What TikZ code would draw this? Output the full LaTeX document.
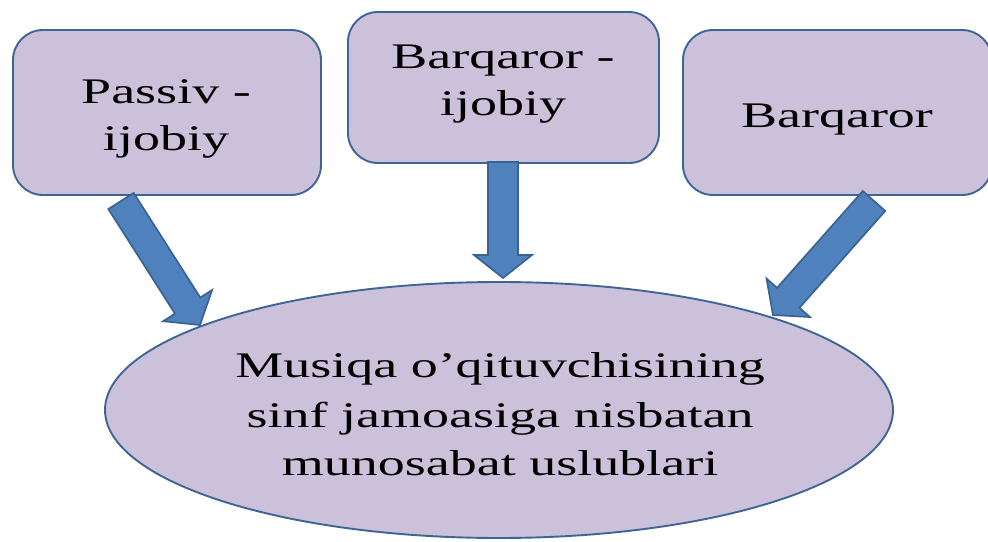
\documentclass[tikz,border=0pt]{standalone}
\usepackage{fontspec}
\setmainfont{Liberation Serif}
\newfontfamily\tnr[FakeStretch=1.5]{Liberation Serif}
\usetikzlibrary{calc,shapes.geometric}
\definecolor{boxfill}{HTML}{CCC1DA}
\definecolor{boxline}{HTML}{3F6594}
\definecolor{arrfill}{HTML}{4F81BD}
\definecolor{arrline}{HTML}{3A6393}
\tikzset{
  rbox/.style={draw=boxline, fill=boxfill, line width=1.9pt, rounded corners=30pt},
  oval/.style={ellipse, draw=boxline, fill=boxfill, line width=1.9pt, inner sep=0pt},
  txt/.style={anchor=base, inner sep=0pt, font=\tnr\fontsize{36}{43}\selectfont},
  barrow/.style={draw=arrline, fill=arrfill, line width=1.7pt, line join=miter},
}
\newcommand\blockarrow[3]{%
  \coordinate (#3) at ($(#2)!23pt!(#1)$);
  \path[barrow] ($(#1)!15pt!90:(#2)$) -- ($(#3)!15pt!90:(#2)$) -- ($(#3)!29pt!90:(#2)$) -- (#2)
    -- ($(#3)!29pt!-90:(#2)$) -- ($(#3)!15pt!-90:(#2)$) -- ($(#1)!15pt!-90:(#2)$) -- cycle;}
\begin{document}
\begin{tikzpicture}[x=1pt,y=-1pt]
\useasboundingbox (0,0) rectangle (988,541);
% ellipse
\node[oval, minimum width=788pt, minimum height=256pt] (center) at (499,410) {};
\node[txt] (l1) at (500,377) {Musiqa o’qituvchisining};
\node[txt] (l2) at (500,427) {sinf jamoasiga nisbatan};
\node[txt] (l3) at (500,475) {munosabat uslublari};
% boxes
\draw[rbox] (13,30) rectangle (321,195);
\node[txt] (p1) at (166,103) {Passiv -};
\node[txt] (p2) at (166,150) {ijobiy};
\draw[rbox] (348,12) rectangle (659,163);
\node[txt] (q1) at (503,68) {Barqaror -};
\node[txt] (q2) at (503,115) {ijobiy};
\draw[rbox] (683,30) rectangle (992,195);
\node[txt] (r1) at (837,127) {Barqaror};
% arrows
\coordinate (t1) at (121,201); \coordinate (h1) at (200,325);
\coordinate (t2) at (503,162); \coordinate (h2) at (503,278);
\coordinate (t3) at (874,201); \coordinate (h3) at (773,315);
\blockarrow{t1}{h1}{c1}
\blockarrow{t2}{h2}{c2}
\blockarrow{t3}{h3}{c3}
\end{tikzpicture}
\end{document}
